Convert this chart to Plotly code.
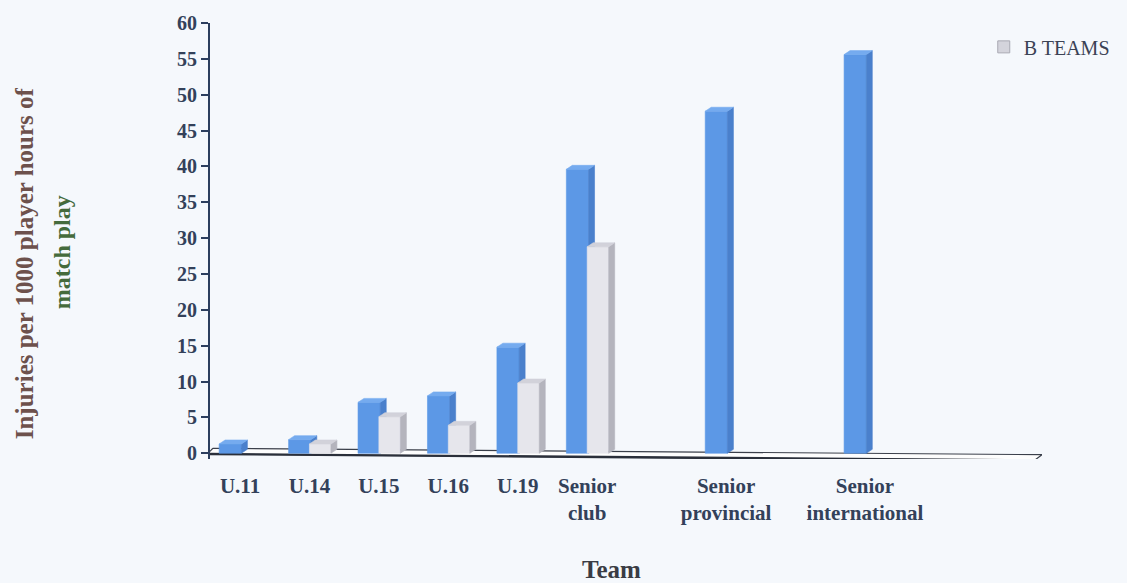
import plotly.graph_objects as go

# Injury rates per 1000 player hours of match play
teams = ["U.11", "U.14", "U.15", "U.16", "U.19",
         "Senior<br>club", "Senior<br>provincial", "Senior<br>international"]
a_teams = [1.3, 1.9, 7.1, 8.0, 14.8, 39.6, 47.7, 55.6]
b_teams = [None, 1.3, 5.1, 3.9, 9.8, 28.8, None, None]
y_ticks = list(range(0, 61, 5))

# slot of each team along the axis (senior sides spaced two slots apart)
slots = [0, 1, 2, 3, 4, 5, 7, 9]

# oblique 3-D look: depth offset in axis units
DX, DY = 0.086, 0.55
BAR_W = 0.32

BG = "#f5f8fc"
TXT = "#33415a"
FONT = "Liberation Serif"


def prism_paths(x_lefts, values, width):
    """Return x/y paths for front, side and top faces of each column."""
    fx, fy, sx, sy, tx, ty = [], [], [], [], [], []
    for x0, v in zip(x_lefts, values):
        if v is None:
            continue
        x1 = x0 + width
        fx += [x0, x1, x1, x0, x0, None]
        fy += [0, 0, v, v, 0, None]
        sx += [x1, x1 + DX, x1 + DX, x1, x1, None]
        sy += [0, DY, v + DY, v, 0, None]
        tx += [x0, x0 + DX, x1 + DX, x1, x0, None]
        ty += [v, v + DY, v + DY, v, v, None]
    return (fx, fy), (sx, sy), (tx, ty)


def face(path, color):
    return go.Scatter(x=path[0], y=path[1], mode="lines", fill="toself",
                      fillcolor=color, line=dict(color=color, width=0.6),
                      hoverinfo="skip", showlegend=False, cliponaxis=False)


fig = go.Figure()

# floor of the 3-D chart: light slab with a thin back edge and a heavier front edge
fig.add_trace(go.Scatter(
    x=[-0.39, 11.55, 11.44, -0.47, -0.39],
    y=[0.7, -0.2, -1.0, -0.1, 0.7],
    mode="lines", fill="toself", fillcolor="#fdfdfd",
    line=dict(color="#3a3f4a", width=1.2),
    hoverinfo="skip", showlegend=False, cliponaxis=False))
fig.add_trace(go.Scatter(
    x=[-0.47, 11.44], y=[-0.1, -1.0], mode="lines",
    line=dict(color="#2a2f3a", width=2.4),
    hoverinfo="skip", showlegend=False, cliponaxis=False))

# A teams (blue) columns
a_left = [s - 0.30 for s in slots]
front, side, top = prism_paths(a_left, a_teams, BAR_W)
fig.add_trace(face(front, "#5c98e6"))
fig.add_trace(face(side, "#4a80cc"))
fig.add_trace(face(top, "#75abef"))

# B teams (grey) columns, set in front of the blue ones
b_left = [s + 0.0 for s in slots]
front, side, top = prism_paths(b_left, b_teams, BAR_W - 0.01)
fig.add_trace(face(front, "#e6e6ec"))
fig.add_trace(face(side, "#b4b4bd"))
fig.add_trace(face(top, "#d2d2da"))

# legend entry
fig.add_trace(go.Scatter(
    x=[None], y=[None], mode="markers", name="B TEAMS",
    marker=dict(symbol="square", size=12, color="#d4d4dc",
                line=dict(color="#a9a9b3", width=1))))

fig.update_layout(
    width=1127, height=583,
    margin=dict(l=210, r=84, t=20, b=124),
    paper_bgcolor=BG, plot_bgcolor=BG,
    font=dict(family=FONT, color=TXT),
    showlegend=True,
    legend=dict(x=0.93, y=0.99, xanchor="left", yanchor="top",
                bgcolor="rgba(0,0,0,0)",
                font=dict(family=FONT, size=20, color="#3b4254"),
                itemwidth=30),
    xaxis=dict(range=[-0.432, 11.55], showgrid=False, zeroline=False,
               showline=False, ticks="", tickmode="array",
               tickvals=slots, ticktext=teams, ticklabelstandoff=12,
               tickfont=dict(family=FONT, size=21, color=TXT, weight="bold")),
    yaxis=dict(range=[-0.8, 60], showgrid=False, zeroline=False,
               showline=True, linecolor="#2c3e5e", linewidth=2,
               ticks="outside", ticklen=7, tickwidth=2, tickcolor="#2c3e5e",
               tickmode="array", tickvals=y_ticks,
               tickfont=dict(family=FONT, size=20, color=TXT, weight="bold")),
    annotations=[
        dict(text="Injuries per 1000 player hours of", xref="paper", yref="paper",
             x=-0.223, y=0.45, xanchor="center", yanchor="middle",
             textangle=-90, showarrow=False,
             font=dict(family=FONT, size=25, color="#6d514c", weight="bold")),
        dict(text="match play", xref="paper", yref="paper",
             x=-0.178, y=0.474, xanchor="center", yanchor="middle",
             textangle=-90, showarrow=False,
             font=dict(family=FONT, size=24, color="#456b3c", weight="bold")),
        dict(text="Team", xref="paper", yref="paper",
             x=0.483, y=-0.253, xanchor="center", yanchor="middle",
             showarrow=False,
             font=dict(family=FONT, size=25, color="#3a3c44", weight="bold")),
    ],
)

fig.write_html("out.html")
